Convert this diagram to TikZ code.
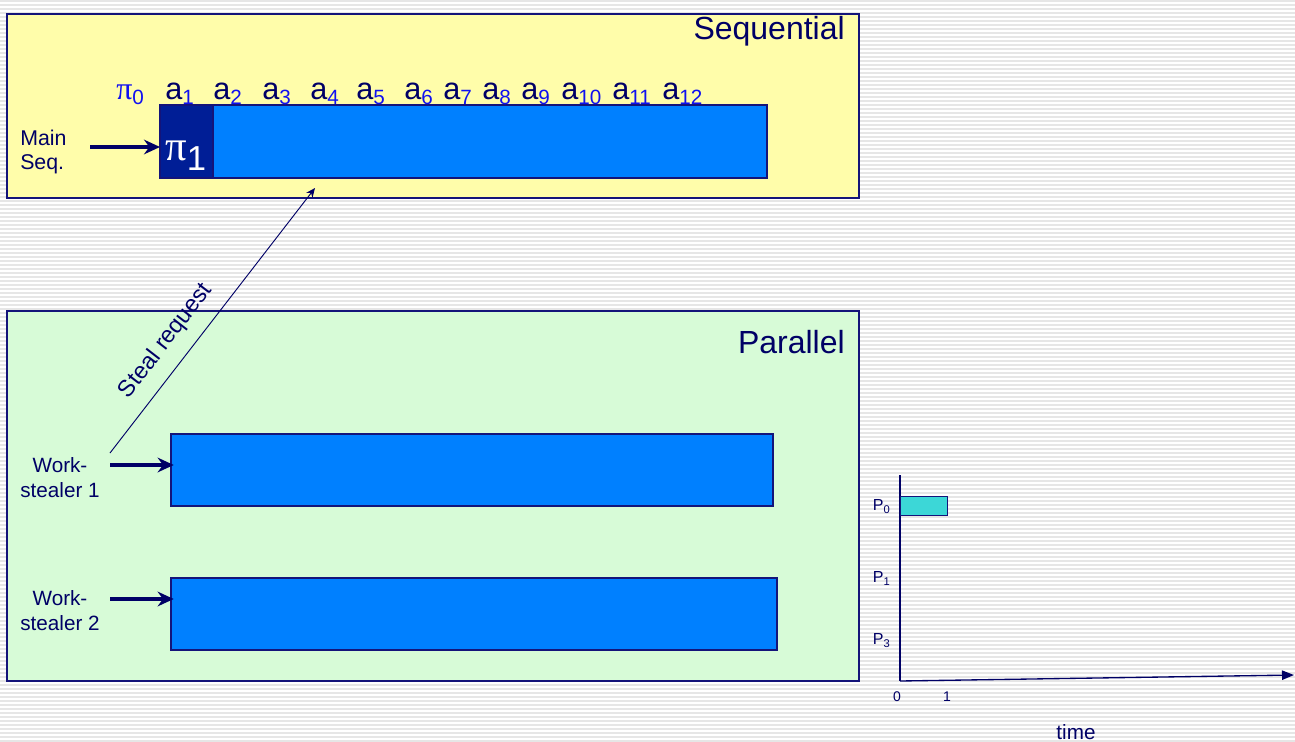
\documentclass[tikz,border=0pt]{standalone}
\usepackage{fontspec}
\setmainfont{Liberation Sans}
\newfontfamily\serifpi{Liberation Serif}
\usetikzlibrary{arrows.meta}
\definecolor{navy}{HTML}{000066}
\definecolor{edge}{HTML}{14147A}
\definecolor{subblue}{HTML}{1010F0}
\definecolor{barblue}{HTML}{0080FF}
\definecolor{darkbar}{HTML}{001E96}
\definecolor{yel}{HTML}{FFFDAA}
\definecolor{grn}{HTML}{D7FBD7}
\definecolor{turq}{HTML}{3CD7D7}
\definecolor{stripe}{HTML}{E6E6E6}
\newcommand\fs[2]{\fontsize{#1}{#2}\selectfont}
\newcommand\alab[1]{\fs{23}{26}a\raisebox{-3.75pt}{\fs{15.5}{17}\color{subblue}#1}}
\newcommand\plab[1]{\fs{12}{14}P\raisebox{-2.5pt}{\fs{8.4}{10}#1}}
\begin{document}
\begin{tikzpicture}[x=0.75pt,y=-0.75pt,
  panel/.style={draw=edge,line width=0.9pt,anchor=north west,inner sep=0,outer sep=0},
  bar/.style={draw=edge,line width=0.8pt,fill=barblue,anchor=north west,inner sep=0,outer sep=0},
  title/.style={text=navy,font=\fs{24}{28},anchor=base east,inner sep=0},
  lab/.style={text=navy,anchor=base west,inner sep=0},
  side/.style={text=navy,inner sep=0},
  bigarrow/.style={draw=navy,line width=2.6pt,-{Stealth[length=12pt,width=11pt,inset=4pt]}},
  thinarrow/.style={draw=navy,line width=0.7pt,-{Stealth[length=7pt,width=6pt]}},
  axis/.style={draw=navy,line width=1pt},
  chartlab/.style={text=navy,inner sep=0}]
\useasboundingbox (0,0) rectangle (1295,742);
\fill[white] (0,0) rectangle (1295,742);
\foreach \y in {0,4,...,740} \fill[stripe] (0,\y) rectangle (1295,\y+2);

% Sequential panel
\node[panel,fill=yel,minimum width=639pt,minimum height=138pt] (seq) at (7,14) {};
\node[title] (seqt) at (845,40) {Sequential};
\node[bar,minimum width=455.25pt,minimum height=54.75pt] (seqbar) at (160,105) {};
\node[panel,draw=edge,fill=darkbar,line width=0.8pt,minimum width=39.75pt,minimum height=54.75pt] (pi1box) at (160,105) {};
\node[anchor=base west,inner sep=0,text=white] (pi1) at (165,160) {{\serifpi\fs{32}{34}π}\raisebox{-7.5pt}{\fs{26}{28}1}};

% labels row
\node[lab,text=subblue] (p0) at (116,99) {{\serifpi\fs{24}{26}π}\raisebox{-3.75pt}{\fs{15.5}{17}0}};
\node[lab] (l1) at (165,99) {\alab{1}};
\node[lab] (l2) at (213,99) {\alab{2}};
\node[lab] (l3) at (262,99) {\alab{3}};
\node[lab] (l4) at (310,99) {\alab{4}};
\node[lab] (l5) at (356,99) {\alab{5}};
\node[lab] (l6) at (404,99) {\alab{6}};
\node[lab] (l7) at (443,99) {\alab{7}};
\node[lab] (l8) at (482,99) {\alab{8}};
\node[lab] (l9) at (521,99) {\alab{9}};
\node[lab] (l10) at (561,99) {\alab{10}};
\node[lab] (l11) at (612,99) {\alab{11}};
\node[lab] (l12) at (662,99) {\alab{12}};

\node[side,anchor=west,align=left,font=\fs{16}{18}] (ms) at (20,152) {Main\\Seq.};
\coordinate (ms0) at (90,147);
\draw[bigarrow] (ms0) -- (ms0 -| seqbar.west);

% Parallel panel
\node[panel,fill=grn,minimum width=639pt,minimum height=277.5pt] (par) at (7,311) {};
\node[title] (part) at (845,353) {Parallel};
\node[bar,minimum width=451.5pt,minimum height=54pt] (ws1) at (171,434) {};
\node[bar,minimum width=454.5pt,minimum height=54pt] (ws2) at (171,578) {};
\node[side,align=center,font=\fs{15.5}{18.75}] (w1) at (60,478) {Work-\\stealer 1};
\node[side,align=center,font=\fs{15.5}{18.75}] (w2) at (60,611) {Work-\\stealer 2};
\coordinate (a1s) at (110,465);
\coordinate (a2s) at (110,599);
\draw[bigarrow] (a1s) -- ([xshift=2pt]a1s -| ws1.west);
\draw[bigarrow] (a2s) -- ([xshift=2pt]a2s -| ws2.west);

% steal request
\coordinate (sr0) at (110,453);
\coordinate (sr1) at (315,188);
\draw[thinarrow] (sr0) -- (sr1);
\node[side,rotate=52.3,font=\fs{17.5}{20}] (srl) at (166,341) {Steal request};

% chart
\coordinate (orig) at (900,681);
\coordinate (ytop) at (900,475);
\coordinate (xend) at (1294,675);
\draw[axis] (ytop) -- (orig);
\draw[axis,-{Triangle[length=9pt,width=7pt]}] (orig) -- (xend);
\node[draw=edge,line width=0.8pt,fill=turq,anchor=north west,inner sep=0,minimum width=35.25pt,minimum height=14.25pt] (p0bar) at (900,496) {};
\node[chartlab,anchor=base east] (P0) at (890,510) {\plab{0}};
\node[chartlab,anchor=base east] (P1) at (890,582) {\plab{1}};
\node[chartlab,anchor=base east] (P3) at (890,644) {\plab{3}};
\node[chartlab,font=\fs{10.5}{12}] (t0) at (897,697) {0};
\node[chartlab,font=\fs{10.5}{12}] (t1) at (947,697) {1};
\node[chartlab,anchor=base,font=\fs{15.5}{18}] (time) at (1076,739) {time};
\end{tikzpicture}
\end{document}
